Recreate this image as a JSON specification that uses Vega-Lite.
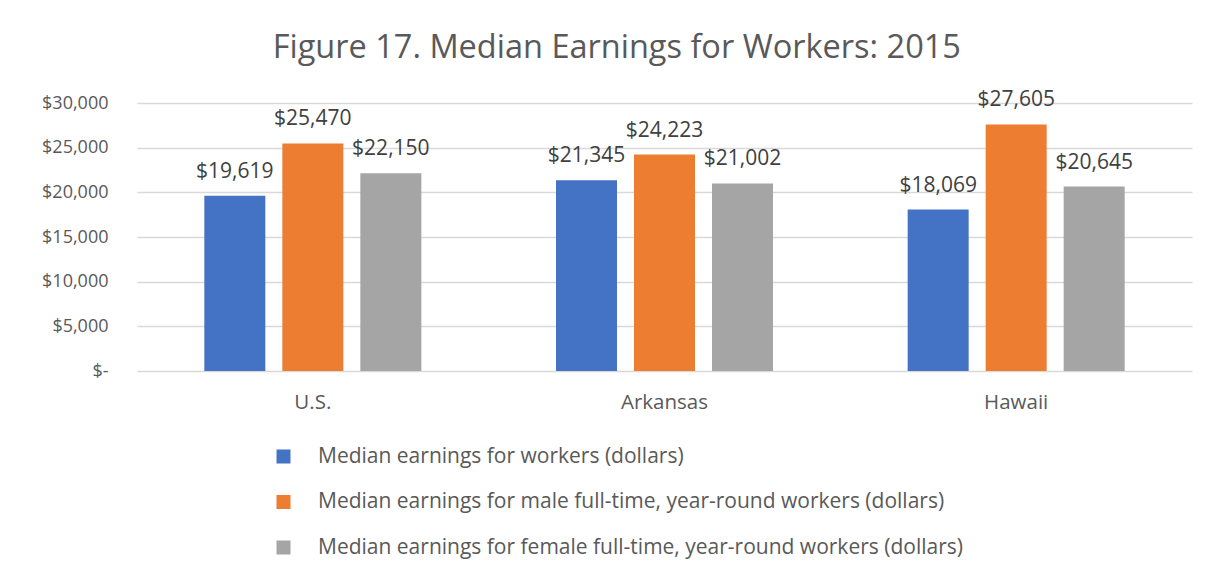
{
  "$schema": "https://vega.github.io/schema/vega-lite/v6.json",
  "autosize": {"type": "none"},
  "padding": {"left": 137, "top": 103, "right": 23, "bottom": 206},
  "width": 1055,
  "height": 268,
  "background": "white",
  "config": {
    "font": "Open Sans",
    "view": {"stroke": null}
  },
  "title": {
    "text": "Figure 17. Median Earnings for Workers: 2015",
    "fontSize": 32.5,
    "fontWeight": "normal",
    "color": "#595959",
    "anchor": "middle",
    "frame": "bounds",
    "offset": 25
  },
  "data": {
    "values": [
      {"place": "U.S.", "series": "Median earnings for workers (dollars)", "value": 19619},
      {"place": "U.S.", "series": "Median earnings for male full-time, year-round workers (dollars)", "value": 25470},
      {"place": "U.S.", "series": "Median earnings for female full-time, year-round workers (dollars)", "value": 22150},
      {"place": "Arkansas", "series": "Median earnings for workers (dollars)", "value": 21345},
      {"place": "Arkansas", "series": "Median earnings for male full-time, year-round workers (dollars)", "value": 24223},
      {"place": "Arkansas", "series": "Median earnings for female full-time, year-round workers (dollars)", "value": 21002},
      {"place": "Hawaii", "series": "Median earnings for workers (dollars)", "value": 18069},
      {"place": "Hawaii", "series": "Median earnings for male full-time, year-round workers (dollars)", "value": 27605},
      {"place": "Hawaii", "series": "Median earnings for female full-time, year-round workers (dollars)", "value": 20645}
    ]
  },
  "encoding": {
    "x": {
      "field": "place",
      "type": "nominal",
      "sort": ["U.S.", "Arkansas", "Hawaii"],
      "scale": {"paddingInner": 0, "paddingOuter": 0},
      "axis": {
        "title": null,
        "labelAngle": 0,
        "labelFontSize": 20.5,
        "labelColor": "#595959",
        "labelPadding": 21,
        "domain": false,
        "ticks": false
      }
    },
    "xOffset": {
      "field": "series",
      "type": "nominal",
      "sort": [
        "Median earnings for workers (dollars)",
        "Median earnings for male full-time, year-round workers (dollars)",
        "Median earnings for female full-time, year-round workers (dollars)"
      ],
      "scale": {"paddingInner": 0.218, "paddingOuter": 0.863}
    },
    "y": {
      "field": "value",
      "type": "quantitative",
      "scale": {"domain": [0, 30000]},
      "axis": {
        "title": null,
        "values": [0, 5000, 10000, 15000, 20000, 25000, 30000],
        "labelExpr": "datum.value == 0 ? '$-\u00a0\u00a0' : '$' + format(datum.value, ',')",
        "labelFontSize": 18,
        "labelColor": "#595959",
        "labelPadding": 29,
        "domain": false,
        "ticks": false,
        "gridColor": "#D9D9D9",
        "gridWidth": 1.3
      }
    }
  },
  "layer": [
    {
      "mark": {"type": "bar"},
      "encoding": {
        "color": {
          "field": "series",
          "type": "nominal",
          "scale": {
            "domain": [
              "Median earnings for workers (dollars)",
              "Median earnings for male full-time, year-round workers (dollars)",
              "Median earnings for female full-time, year-round workers (dollars)"
            ],
            "range": ["#4472C4", "#ED7D31", "#A5A5A5"]
          },
          "legend": {
            "title": null,
            "orient": "none",
            "legendX": 136,
            "legendY": 343,
            "direction": "vertical",
            "symbolType": "square",
            "symbolSize": 196,
            "symbolStrokeWidth": 0,
            "labelFontSize": 21,
            "labelColor": "#595959",
            "labelOffset": 24,
            "labelLimit": 900,
            "rowPadding": 23.5
          }
        }
      }
    },
    {
      "mark": {"type": "text", "baseline": "alphabetic", "dy": -18, "fontSize": 21, "color": "#404040"},
      "encoding": {
        "text": {"field": "value", "type": "quantitative", "format": "$,.0f"}
      }
    }
  ]
}
